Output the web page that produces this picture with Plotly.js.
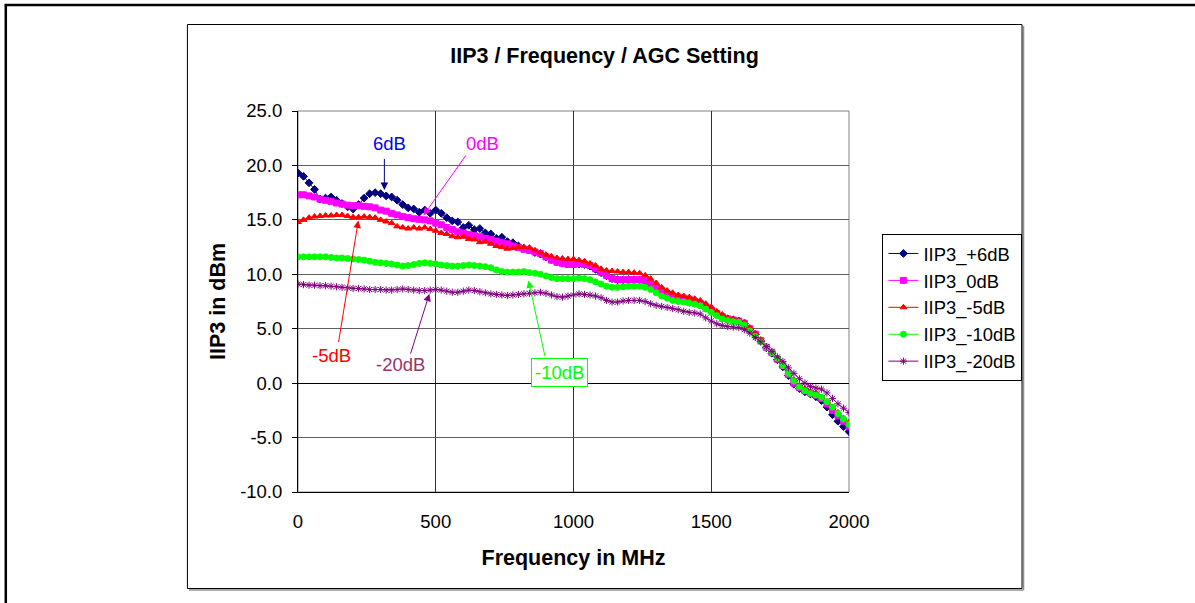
<!DOCTYPE html>
<html><head><meta charset="utf-8">
<script src="https://cdn.plot.ly/plotly-3.0.1.min.js"></script>
<style>html,body{margin:0;padding:0;background:#fff;}#chart{width:1195px;height:603px;}</style>
</head><body><div id="chart"></div>
<script>
// ---- data ----
const freqMHz = [
  0,20,40,60,80,100,120,140,160,180,
  200,220,240,260,280,300,320,340,360,380,
  400,420,440,460,480,500,520,540,560,580,
  600,620,640,660,680,700,720,740,760,780,
  800,820,840,860,880,900,920,940,960,980,
  1000,1020,1040,1060,1080,1100,1120,1140,1160,1180,
  1200,1220,1240,1260,1280,1300,1320,1340,1360,1380,
  1400,1420,1440,1460,1480,1500,1520,1540,1560,1580,
  1600,1620,1640,1660,1680,1700,1720,1740,1760,1780,
  1800,1820,1840,1860,1880,1900,1920,1940,1960,1980,
  2000];
const iip3_p6dB = [
  19.3,19.0,18.4,17.8,16.9,17.0,17.1,16.8,16.5,16.2,
  16.0,16.4,17.0,17.4,17.5,17.4,17.2,17.1,16.8,16.4,
  16.1,16.0,15.7,15.9,15.6,15.9,15.6,15.2,14.9,14.8,
  14.3,14.5,14.1,14.2,13.8,13.7,13.3,13.4,13.0,12.9,
  12.6,12.35,12.25,12.0,11.85,11.6,11.35,11.15,11.05,11.0,
  10.95,10.95,10.9,10.75,10.45,10.15,9.85,9.6,9.5,9.5,
  9.5,9.5,9.45,9.35,9.05,8.75,8.45,8.2,8.0,7.9,
  7.75,7.65,7.45,7.25,6.95,6.65,6.35,6.1,5.9,5.8,
  5.7,5.45,4.95,4.45,3.85,3.25,2.75,2.15,1.5,0.7,
  -0.1,-0.5,-0.8,-1.0,-1.25,-1.6,-2.2,-2.9,-3.5,-4.0,
  -4.45];
const iip3_0dB = [
  17.3,17.3,17.2,17.1,16.9,16.8,16.7,16.55,16.45,16.35,
  16.3,16.3,16.25,16.2,16.1,15.9,15.8,15.6,15.45,15.3,
  15.2,15.1,15.05,15.0,14.9,14.7,14.55,14.3,14.1,13.9,
  13.8,13.65,13.55,13.45,13.3,13.2,13.05,12.9,12.8,12.6,
  12.45,12.3,12.2,12.05,11.9,11.6,11.3,11.1,11.0,10.9,
  10.9,11.0,10.9,10.8,10.5,10.2,9.9,9.6,9.5,9.5,
  9.5,9.5,9.5,9.4,9.1,8.8,8.5,8.2,8.0,7.9,
  7.8,7.7,7.5,7.3,7.0,6.7,6.4,6.1,5.9,5.8,
  5.7,5.5,5.0,4.5,3.9,3.3,2.8,2.2,1.6,0.8,
  0.0,-0.4,-0.7,-0.9,-1.1,-1.4,-1.9,-2.5,-3.0,-3.5,
  -4.0];
const iip3_m5dB = [
  14.8,15.0,15.2,15.3,15.35,15.4,15.4,15.45,15.45,15.35,
  15.25,15.25,15.3,15.25,15.2,15.0,14.85,14.7,14.4,14.3,
  14.2,14.3,14.2,14.3,14.15,14.0,13.8,13.7,13.5,13.4,
  13.45,13.25,13.2,12.95,13.0,12.8,12.6,12.5,12.35,12.4,
  12.5,12.5,12.45,12.2,12.0,11.8,11.65,11.5,11.45,11.4,
  11.4,11.3,11.2,11.0,10.8,10.5,10.35,10.3,10.25,10.2,
  10.2,10.15,10.1,9.9,9.6,9.2,8.8,8.5,8.3,8.1,
  8.0,7.9,7.75,7.6,7.3,7.0,6.6,6.3,6.0,5.9,
  5.8,5.6,5.1,4.6,4.0,3.4,2.9,2.3,1.7,1.0,
  0.3,-0.2,-0.5,-0.8,-0.9,-1.3,-1.7,-2.2,-2.7,-3.2,
  -3.6];
const iip3_m10dB = [
  11.6,11.6,11.6,11.6,11.6,11.6,11.55,11.5,11.5,11.45,
  11.4,11.35,11.3,11.2,11.1,11.05,11.0,10.95,10.85,10.75,
  10.8,10.9,11.0,11.05,11.0,10.95,10.85,10.8,10.75,10.75,
  10.8,10.85,10.8,10.75,10.7,10.6,10.4,10.25,10.2,10.2,
  10.2,10.25,10.15,10.1,10.0,9.85,9.7,9.6,9.6,9.6,
  9.6,9.65,9.6,9.5,9.3,9.1,8.9,8.8,8.8,8.85,
  8.9,8.9,8.9,8.8,8.6,8.3,8.0,7.8,7.6,7.5,
  7.45,7.35,7.25,7.1,6.8,6.5,6.2,5.9,5.75,5.65,
  5.6,5.35,4.8,4.3,3.8,3.3,2.8,2.3,1.6,0.9,
  0.2,-0.35,-0.7,-0.95,-1.1,-1.3,-1.7,-2.2,-2.8,-3.3,
  -3.8];
const iip3_m20dB = [
  9.1,9.05,9.0,9.0,8.95,8.95,8.9,8.85,8.8,8.75,
  8.7,8.7,8.65,8.6,8.6,8.6,8.55,8.55,8.6,8.65,
  8.6,8.55,8.5,8.5,8.55,8.6,8.55,8.45,8.35,8.35,
  8.45,8.55,8.5,8.4,8.3,8.2,8.15,8.1,8.05,8.1,
  8.15,8.2,8.25,8.3,8.35,8.25,8.1,7.95,7.9,8.0,
  8.1,8.2,8.15,8.1,8.0,7.85,7.6,7.45,7.45,7.55,
  7.6,7.6,7.6,7.5,7.3,7.15,7.05,6.95,6.85,6.75,
  6.6,6.5,6.45,6.35,6.0,5.7,5.45,5.3,5.2,5.15,
  5.1,4.9,4.6,4.2,3.8,3.35,2.9,2.4,2.0,1.4,
  0.9,0.4,0.0,-0.3,-0.45,-0.55,-0.9,-1.4,-1.9,-2.3,
  -2.7];
const seriesNames = ['IIP3_+6dB','IIP3_0dB','IIP3_-5dB','IIP3_-10dB','IIP3_-20dB'];
const xTickVals = [0,500,1000,1500,2000];
const xTickText = ['0','500','1000','1500','2000'];
const yTickVals = [-10,-5,0,5,10,15,20,25];
const yTickText = ['-10.0','-5.0','0.0','5.0','10.0','15.0','20.0','25.0'];

// ---- styling ----
const FONT = 'Liberation Sans, Arial, sans-serif';
const styles = [
  {color:'#000080', symbol:'diamond', size:6},
  {color:'#FF00FF', symbol:'square', size:6},
  {color:'#FF0000', symbol:'triangle-up', size:6},
  {color:'#00FF00', symbol:'circle', size:6},
  {color:'#800080', symbol:'asterisk-open', size:6}
];
const ys = [iip3_p6dB, iip3_0dB, iip3_m5dB, iip3_m10dB, iip3_m20dB];
const traces = ys.map((y,i)=>({
  type:'scatter', mode:'lines+markers', name:seriesNames[i],
  x:freqMHz, y:y,
  line:{color:styles[i].color, width:1},
  marker:{color:styles[i].color, symbol:styles[i].symbol, size:styles[i].size,
          line:{color:styles[i].color, width:1}}
}));

// pixel -> paper helpers for frame shapes
const PL=298, PR=848.6, PT=111, PB=492;
const px = v => (v-PL)/(PR-PL);
const py = v => (PB-v)/(PB-PT);

const shapes = [
  {type:'line', xref:'paper', yref:'paper', x0:px(5), x1:px(1195), y0:py(5), y1:py(5), line:{color:'#000', width:2.5}},
  {type:'line', xref:'paper', yref:'paper', x0:px(6), x1:px(6), y0:py(4), y1:py(603), line:{color:'#000', width:2.5}},
  {type:'line', xref:'paper', yref:'paper', x0:px(1023), x1:px(1023), y0:py(26), y1:py(590), line:{color:'#909090', width:1.5}},
  {type:'line', xref:'paper', yref:'paper', x0:px(189), x1:px(1023), y0:py(590), y1:py(590), line:{color:'#909090', width:1.5}},
  {type:'rect', xref:'paper', yref:'paper', x0:px(187.5), x1:px(1021.5), y0:py(24.5), y1:py(588.5), line:{color:'#000', width:1}},
  {type:'rect', xref:'paper', yref:'paper', x0:0, x1:1, y0:0, y1:1, line:{color:'#808080', width:1}, layer:'below'}
];

const annFont = {family:FONT, size:18.5};
const annotations = [
  {x:330.6, y:22.0, text:'6dB', showarrow:false, font:{...annFont, color:'#0000FF'}},
  {x:668.4, y:22.0, text:'0dB', showarrow:false, font:{...annFont, color:'#FF00FF'}},
  {x:119.9, y:2.57, text:'-5dB', showarrow:false, font:{...annFont, color:'#FF0000'}},
  {x:370.5, y:1.74, text:'-20dB', showarrow:false, font:{...annFont, color:'#993366'}},
  {x:948.1, y:1.0, text:'-10dB', showarrow:false, font:{...annFont, color:'#00FF00'},
   bordercolor:'#00FF00', borderwidth:1, borderpad:3, bgcolor:'#fff'},
  {x:313.5, y:17.75, ax:313.5, ay:20.74, axref:'x', ayref:'y', text:'', showarrow:true, arrowhead:2, arrowsize:1.5, arrowwidth:1, arrowcolor:'#000080'},
  {x:455.2, y:15.4, ax:612.8, ay:21.05, axref:'x', ayref:'y', text:'', showarrow:true, arrowhead:2, arrowsize:1.5, arrowwidth:1, arrowcolor:'#FF00FF'},
  {x:219.0, y:14.94, ax:146.4, ay:3.64, axref:'x', ayref:'y', text:'', showarrow:true, arrowhead:2, arrowsize:1.5, arrowwidth:1, arrowcolor:'#FF0000'},
  {x:477.0, y:8.22, ax:406.9, ay:2.57, axref:'x', ayref:'y', text:'', showarrow:true, arrowhead:2, arrowsize:1.5, arrowwidth:1, arrowcolor:'#800080'},
  {x:836.6, y:9.44, ax:897.3, ay:2.36, axref:'x', ayref:'y', text:'', showarrow:true, arrowhead:2, arrowsize:1.5, arrowwidth:1, arrowcolor:'#00FF00'}
];

const layout = {
  width:1195, height:603,
  margin:{l:PL, r:1195-PR, t:PT, b:603-PB, pad:0},
  paper_bgcolor:'#fff', plot_bgcolor:'#fff',
  font:{family:FONT, color:'#000', size:18.5},
  title:{text:'IIP3 / Frequency / AGC Setting', x:604.5/1195, xref:'container', xanchor:'center',
         y:1-55/603, yref:'container', yanchor:'middle',
         font:{family:FONT, size:21.5, weight:700, color:'#000'}},
  xaxis:{range:[0,2000], tickvals:xTickVals, ticktext:xTickText, ticks:'', ticklabelstandoff:13,
         showgrid:true, gridcolor:'#303030', gridwidth:1, zeroline:false,
         showline:true, linecolor:'#000', linewidth:1,
         tickfont:{family:FONT, size:18.5, color:'#000'},
         title:{text:'Frequency in MHz', standoff:18, font:{family:FONT, size:21.5, weight:700, color:'#000'}}},
  yaxis:{range:[-10,25], tickvals:yTickVals, ticktext:yTickText, ticks:'outside', ticklen:5, tickcolor:'#000',
         ticklabelstandoff:6,
         showgrid:true, gridcolor:'#606060', gridwidth:1, zeroline:true, zerolinecolor:'#000', zerolinewidth:1,
         showline:true, linecolor:'#000', linewidth:1,
         tickfont:{family:FONT, size:18.5, color:'#000'},
         title:{text:'IIP3 in dBm', standoff:8, font:{family:FONT, size:21.5, weight:700, color:'#000'}}},
  legend:{x:px(882), xanchor:'left', y:py(234), yanchor:'top', bgcolor:'#fff',
          bordercolor:'#000', borderwidth:1, font:{family:FONT, size:18.4, color:'#000'}},
  showlegend:true,
  shapes:shapes,
  annotations:annotations
};

Plotly.newPlot('chart', traces, layout, {displayModeBar:false, staticPlot:true});
</script>
</body></html>
